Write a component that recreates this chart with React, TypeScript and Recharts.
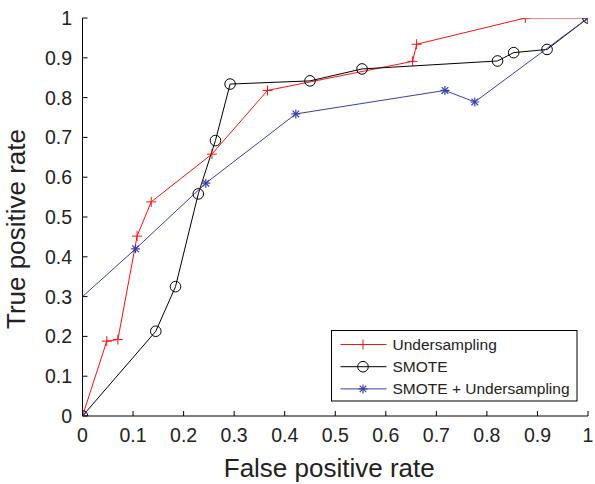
import React from 'react';
import { LineChart, Line, XAxis, YAxis, ReferenceLine } from 'recharts';

const xTicks = [0, 0.1, 0.2, 0.3, 0.4, 0.5, 0.6, 0.7, 0.8, 0.9, 1];
const yTicks = [0, 0.1, 0.2, 0.3, 0.4, 0.5, 0.6, 0.7, 0.8, 0.9, 1];
const tickLabels = ['0', '0.1', '0.2', '0.3', '0.4', '0.5', '0.6', '0.7', '0.8', '0.9', '1'];

const seriesNames = ['Undersampling', 'SMOTE', 'SMOTE + Undersampling'];

const fprUnder = [0, 0.048, 0.07, 0.108, 0.136, 0.256, 0.366, 0.653, 0.661, 0.876, 1];
const tprUnder = [0, 0.188, 0.192, 0.452, 0.538, 0.658, 0.818, 0.891, 0.934, 1, 1];

const fprSmote = [0, 0.145, 0.184, 0.229, 0.263, 0.292, 0.45, 0.553, 0.821, 0.853, 0.919, 1];
const tprSmote = [0, 0.213, 0.325, 0.558, 0.692, 0.834, 0.842, 0.872, 0.892, 0.913, 0.921, 1];

const fprBoth = [0, 0, 0.105, 0.244, 0.422, 0.717, 0.776, 1];
const tprBoth = [0, 0.3, 0.42, 0.585, 0.759, 0.818, 0.789, 1];

const zip = (xs: number[], ys: number[]) => xs.map((x, i) => ({ x, y: ys[i] }));
const dataUnder = zip(fprUnder, tprUnder);
const dataSmote = zip(fprSmote, tprSmote);
const dataBoth = zip(fprBoth, tprBoth);

const RED = '#ff1010';
const BLACK = '#000000';
const BLUE = '#3a3fa6';
const FONT = '"Liberation Sans", Arial, Helvetica, sans-serif';

const labelOf = (v: number) => tickLabels[xTicks.findIndex((t) => Math.abs(t - v) < 1e-9)] ?? String(v);

const PlusMark = ({ cx, cy, color }: any) => (
  <g>
    <line x1={cx - 5} x2={cx + 5} y1={cy} y2={cy} stroke={color} strokeWidth={1} />
    <line x1={cx} x2={cx} y1={cy - 5} y2={cy + 5} stroke={color} strokeWidth={1} />
  </g>
);
const CircleMark = ({ cx, cy, color }: any) => (
  <circle cx={cx} cy={cy} r={5.3} fill="none" stroke={color} strokeWidth={1} />
);
const StarMark = ({ cx, cy, color }: any) => (
  <g stroke={color} strokeWidth={1.2}>
    <line x1={cx - 4.5} x2={cx + 4.5} y1={cy} y2={cy} />
    <line x1={cx} x2={cx} y1={cy - 4.5} y2={cy + 4.5} />
    <line x1={cx - 3.3} x2={cx + 3.3} y1={cy - 3.3} y2={cy + 3.3} />
    <line x1={cx - 3.3} x2={cx + 3.3} y1={cy + 3.3} y2={cy - 3.3} />
  </g>
);

const plusDot = (p: any) => <PlusMark key={`p${p.index}`} cx={p.cx} cy={p.cy} color={RED} />;
const circleDot = (p: any) => <CircleMark key={`c${p.index}`} cx={p.cx} cy={p.cy} color={BLACK} />;
const starDot = (p: any) =>
  p.index === 1 ? <g key={`s${p.index}`} /> : <StarMark key={`s${p.index}`} cx={p.cx} cy={p.cy} color={BLUE} />;

const TICK_FS = 19.5;

const BottomTick = (p: any) => (
  <g>
    <line x1={p.x} x2={p.x} y1={p.y} y2={p.y - 5} stroke="#000" />
    <text x={p.x} y={p.y + 26} textAnchor="middle" fontSize={TICK_FS} fontFamily={FONT} fill="#222">
      {labelOf(p.payload.value)}
    </text>
  </g>
);
const TopTick = (p: any) => <line x1={p.x} x2={p.x} y1={p.y} y2={p.y + 5} stroke="#000" />;
const LeftTick = (p: any) => (
  <g>
    <line x1={p.x} x2={p.x + 5} y1={p.y} y2={p.y} stroke="#000" />
    <text x={p.x - 10.5} y={p.y + 7} textAnchor="end" fontSize={TICK_FS} fontFamily={FONT} fill="#222">
      {labelOf(p.payload.value)}
    </text>
  </g>
);
const RightTick = (p: any) => <line x1={p.x} x2={p.x - 5} y1={p.y} y2={p.y} stroke="#000" />;

const titleStyle = { fontSize: '26px', fontFamily: FONT, fill: '#222' };

const XTitle = (props: any) => {
  const vb = props.viewBox;
  return (
    <text x={vb.x + vb.width / 2 - 6} y={477} textAnchor="middle" style={titleStyle}>
      False positive rate
    </text>
  );
};
const YTitle = (props: any) => {
  const vb = props.viewBox;
  const cy = vb.y + vb.height / 2 + 12;
  return (
    <text x={25} y={cy} transform={`rotate(-90, 25, ${cy})`} textAnchor="middle" style={titleStyle}>
      True positive rate
    </text>
  );
};

const legendMarks = [
  (cx: number, cy: number) => <PlusMark cx={cx} cy={cy} color={RED} />,
  (cx: number, cy: number) => <CircleMark cx={cx} cy={cy} color={BLACK} />,
  (cx: number, cy: number) => <StarMark cx={cx} cy={cy} color={BLUE} />,
];
const legendColors = [RED, BLACK, BLUE];

const LegendBox = () => (
  <svg width={247} height={72} style={{ position: 'absolute', left: 331, top: 329.5, overflow: 'visible' }}>
    <rect x={0.5} y={0.5} width={245.5} height={70.5} fill="#fff" stroke="#000" strokeWidth={1} />
    {seriesNames.map((name, i) => {
      const cy = 14.5 + i * 22.2;
      return (
        <g key={name}>
          <line x1={9.5} x2={55.5} y1={cy} y2={cy} stroke={legendColors[i]} strokeWidth={1} />
          {legendMarks[i](32, cy)}
          <text x={61.5} y={cy + 5.5} style={{ fontSize: '15.5px', fontFamily: FONT, fill: '#222' }}>
            {name}
          </text>
        </g>
      );
    })}
  </svg>
);

export default function App() {
  return (
    <div style={{ position: 'absolute', left: 0, top: 0, width: 595, height: 484, background: '#fff' }}>
      <LineChart width={595} height={484} margin={{ top: 18, right: 7, bottom: 0, left: 0 }}>
        <XAxis
          xAxisId="b"
          type="number"
          dataKey="x"
          domain={[0, 1]}
          ticks={xTicks}
          interval={0}
          allowDataOverflow
          height={68}
          tickSize={0}
          tickMargin={0}
          tickLine={false}
          axisLine={{ stroke: '#000' }}
          tick={(p: any) => <BottomTick {...p} />}
          label={XTitle}
        />
        <XAxis
          xAxisId="t"
          orientation="top"
          type="number"
          dataKey="x"
          domain={[0, 1]}
          ticks={xTicks}
          interval={0}
          height={0}
          tickSize={0}
          tickMargin={0}
          tickLine={false}
          axisLine={{ stroke: '#000' }}
          tick={(p: any) => <TopTick {...p} />}
        />
        <YAxis
          yAxisId="l"
          type="number"
          domain={[0, 1]}
          ticks={yTicks}
          interval={0}
          allowDataOverflow
          width={82.5}
          tickSize={0}
          tickMargin={0}
          tickLine={false}
          axisLine={{ stroke: '#000' }}
          tick={(p: any) => <LeftTick {...p} />}
          label={YTitle}
        />
        <YAxis
          yAxisId="r"
          orientation="right"
          type="number"
          domain={[0, 1]}
          ticks={yTicks}
          interval={0}
          width={0}
          tickSize={0}
          tickMargin={0}
          tickLine={false}
          axisLine={{ stroke: '#000' }}
          tick={(p: any) => <RightTick {...p} />}
        />
        <Line xAxisId="b" yAxisId="l" data={dataUnder} dataKey="y" stroke={RED} strokeWidth={1} dot={plusDot} activeDot={false} isAnimationActive={false} />
        <Line xAxisId="b" yAxisId="l" data={dataSmote} dataKey="y" stroke={BLACK} strokeWidth={1} dot={circleDot} activeDot={false} isAnimationActive={false} />
        <Line xAxisId="b" yAxisId="l" data={dataBoth} dataKey="y" stroke={BLUE} strokeWidth={1} dot={starDot} activeDot={false} isAnimationActive={false} />
        <ReferenceLine xAxisId="b" yAxisId="l" segment={[{ x: 0, y: 0.02 }, { x: 0, y: 0.35 }]} stroke="#000" />
      </LineChart>
      <LegendBox />
    </div>
  );
}
